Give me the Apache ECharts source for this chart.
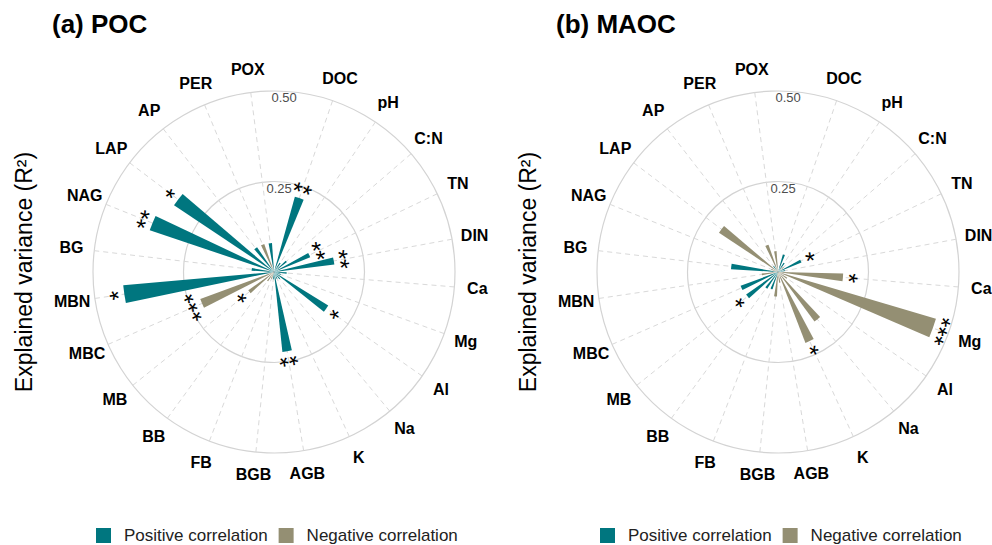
<!DOCTYPE html>
<html>
<head>
<meta charset="utf-8">
<script src="https://cdn.jsdelivr.net/npm/echarts@6/dist/echarts.min.js"></script>
<style>
  html, body { margin: 0; padding: 0; background: #fff; }
  #main { width: 992px; height: 545px; }
</style>
</head>
<body>
<div id="main"></div>
<script>
// variables, clockwise from the top gap
var categories = ['DOC', 'pH', 'C:N', 'TN', 'DIN', 'Ca', 'Mg', 'Al', 'Na', 'K', 'AGB', 'BGB',
  'FB', 'BB', 'MB', 'MBC', 'MBN', 'BG', 'NAG', 'LAP', 'AP', 'PER', 'POX'];

// (a) POC
var pocR2 = [0.216, 0.03, 0.045, 0.108, 0.168, 0.035, 0.02, 0.176, 0.025, 0.02, 0.222, 0.02,
  0.02, 0.03, 0.087, 0.217, 0.418, 0.062, 0.362, 0.332, 0.083, 0.082, 0.08];
var pocSign = [1, 1, 1, 1, 1, 1, 1, 1, 1, 1, 1, 1, -1, -1, -1, -1, 1, 1, 1, 1, 1, -1, 1];
var pocStars = ['**', '', '', '**', '**', '', '', '*', '', '', '**', '',
  '', '', '*', '***', '*', '', '**', '*', '', '', ''];

// (b) MAOC
var maocR2 = [0.05, 0.03, 0.02, 0.07, 0.02, 0.18, 0.455, 0.03, 0.17, 0.21, 0.03, 0.068,
  0.05, 0.055, 0.108, 0.11, 0.045, 0.13, 0.02, 0.196, 0.02, 0.08, 0.058];
var maocSign = [1, 1, -1, 1, 1, -1, -1, -1, -1, -1, -1, -1, 1, 1, 1, 1, -1, 1, -1, -1, 1, -1, -1];
var maocStars = ['', '', '', '*', '', '*', '***', '', '', '*', '', '',
  '', '', '*', '', '', '', '', '', '', '', ''];

var rTicks = [0.25, 0.5];

var teal = '#00767F', olive = '#948F73';
var font = 'Liberation Sans, Arial, sans-serif';

var panels = [
  { title: '(a) POC', cx: 274, vals: pocR2, sign: pocSign, stars: pocStars },
  { title: '(b) MAOC', cx: 778, vals: maocR2, sign: maocSign, stars: maocStars }
];

function pick(vals, sign, want) {
  return vals.map(function (v, i) { return sign[i] === want ? v : null; });
}

var myChart = echarts.init(document.getElementById('main'), null, { renderer: 'svg' });

var polar = [], angleAxis = [], radiusAxis = [], series = [], title = [], legend = [], graphic = [];

function hiddenRadius(idx) {
  return {
    polarIndex: idx, type: 'value', min: 0, max: rTicks[1],
    axisLine: { show: false }, axisTick: { show: false },
    axisLabel: { show: false }, splitLine: { show: false }
  };
}

panels.forEach(function (p, i) {
  var cy = 272;
  var barsIdx = 3 * i, ringIdx = 3 * i + 1, nameIdx = 3 * i + 2;
  polar.push({ center: [p.cx, cy], radius: 181 });
  polar.push({ center: [p.cx, cy], radius: 181 });
  polar.push({ center: [p.cx, cy], radius: 181 });

  // bars + dashed spokes
  angleAxis.push({
    polarIndex: barsIdx,
    type: 'category',
    data: categories,
    startAngle: 78.7,
    endAngle: -270.2,
    clockwise: true,
    axisLine: { show: false },
    axisTick: { show: false, alignWithLabel: true, interval: 0 },
    axisLabel: { show: false, interval: 0 },
    splitLine: {
      show: true, interval: 0,
      lineStyle: { color: '#d9d9d9', type: [5, 4], width: 1 }
    }
  });
  radiusAxis.push(hiddenRadius(barsIdx));

  // rings + their labels
  angleAxis.push({
    polarIndex: ringIdx,
    type: 'value', min: 0, max: 360,
    startAngle: 86.8,
    axisLine: { show: false },
    axisTick: { show: false },
    axisLabel: { show: false },
    splitLine: { show: false }
  });
  radiusAxis.push({
    polarIndex: ringIdx,
    type: 'value', min: 0, max: rTicks[1], interval: rTicks[0],
    axisLine: { show: false },
    axisTick: { show: false },
    axisLabel: {
      showMinLabel: false, margin: 0, align: 'center', verticalAlign: 'top',
      fontSize: 13, color: '#4d4d4d', fontFamily: font,
      formatter: function (v) { return v.toFixed(2); }
    },
    splitLine: { show: true, lineStyle: { color: '#d3d3d3', width: 1.2 } }
  });

  // category names, centred just outside the outer ring
  angleAxis.push({
    polarIndex: nameIdx,
    type: 'category',
    data: categories,
    startAngle: 78.7,
    endAngle: -270.2,
    clockwise: true,
    axisLine: { show: false }, axisTick: { show: false },
    axisLabel: { show: false }, splitLine: { show: false }
  });
  radiusAxis.push(hiddenRadius(nameIdx));
  series.push({
    name: 'names', type: 'bar', coordinateSystem: 'polar',
    polarIndex: nameIdx, barWidth: '45%',
    silent: true, z: 0,
    itemStyle: { color: 'rgba(0,0,0,0)' },
    label: {
      show: true, position: 'end', distance: 23, rotate: 0,
      align: 'center', verticalAlign: 'middle',
      fontSize: 16, fontWeight: 'bold', color: '#000', fontFamily: font,
      formatter: function (d) { return categories[d.dataIndex]; }
    },
    data: categories.map(function () { return rTicks[1]; })
  });

  var label = {
    show: true, position: 'end', distance: -6,
    fontSize: 25, color: '#000', fontFamily: font,
    formatter: function (d) { return p.stars[d.dataIndex]; }
  };

  series.push({
    name: 'Positive correlation', type: 'bar', coordinateSystem: 'polar',
    polarIndex: barsIdx, barWidth: '45%', barGap: '-100%',
    itemStyle: { color: teal },
    label: label,
    data: pick(p.vals, p.sign, 1)
  });
  series.push({
    name: 'Negative correlation', type: 'bar', coordinateSystem: 'polar',
    polarIndex: barsIdx, barWidth: '45%', barGap: '-100%',
    itemStyle: { color: olive },
    label: label,
    data: pick(p.vals, p.sign, -1)
  });

  title.push({
    text: p.title,
    left: p.cx - 227, top: 6,
    textStyle: { fontSize: 26, fontWeight: 'bold', color: '#000', fontFamily: font }
  });

  legend.push({
    data: ['Positive correlation', 'Negative correlation'],
    left: p.cx - 183, top: 522,
    icon: 'rect', itemWidth: 15, itemHeight: 15, itemGap: 11,
    textStyle: { fontSize: 17, color: '#222', fontFamily: font, padding: [0, 0, 0, 8] }
  });

  graphic.push({
    type: 'text',
    x: p.cx - 250, y: cy,
    rotation: Math.PI / 2,
    style: {
      text: 'Explained variance (R²)',
      fontSize: 23, fill: '#000', fontFamily: font,
      align: 'center', verticalAlign: 'middle'
    }
  });
});

var option = {
  animation: false,
  tooltip: { show: false },
  title: title,
  legend: legend,
  polar: polar,
  angleAxis: angleAxis,
  radiusAxis: radiusAxis,
  graphic: graphic,
  series: series
};
myChart.setOption(option);
</script>
</body>
</html>
